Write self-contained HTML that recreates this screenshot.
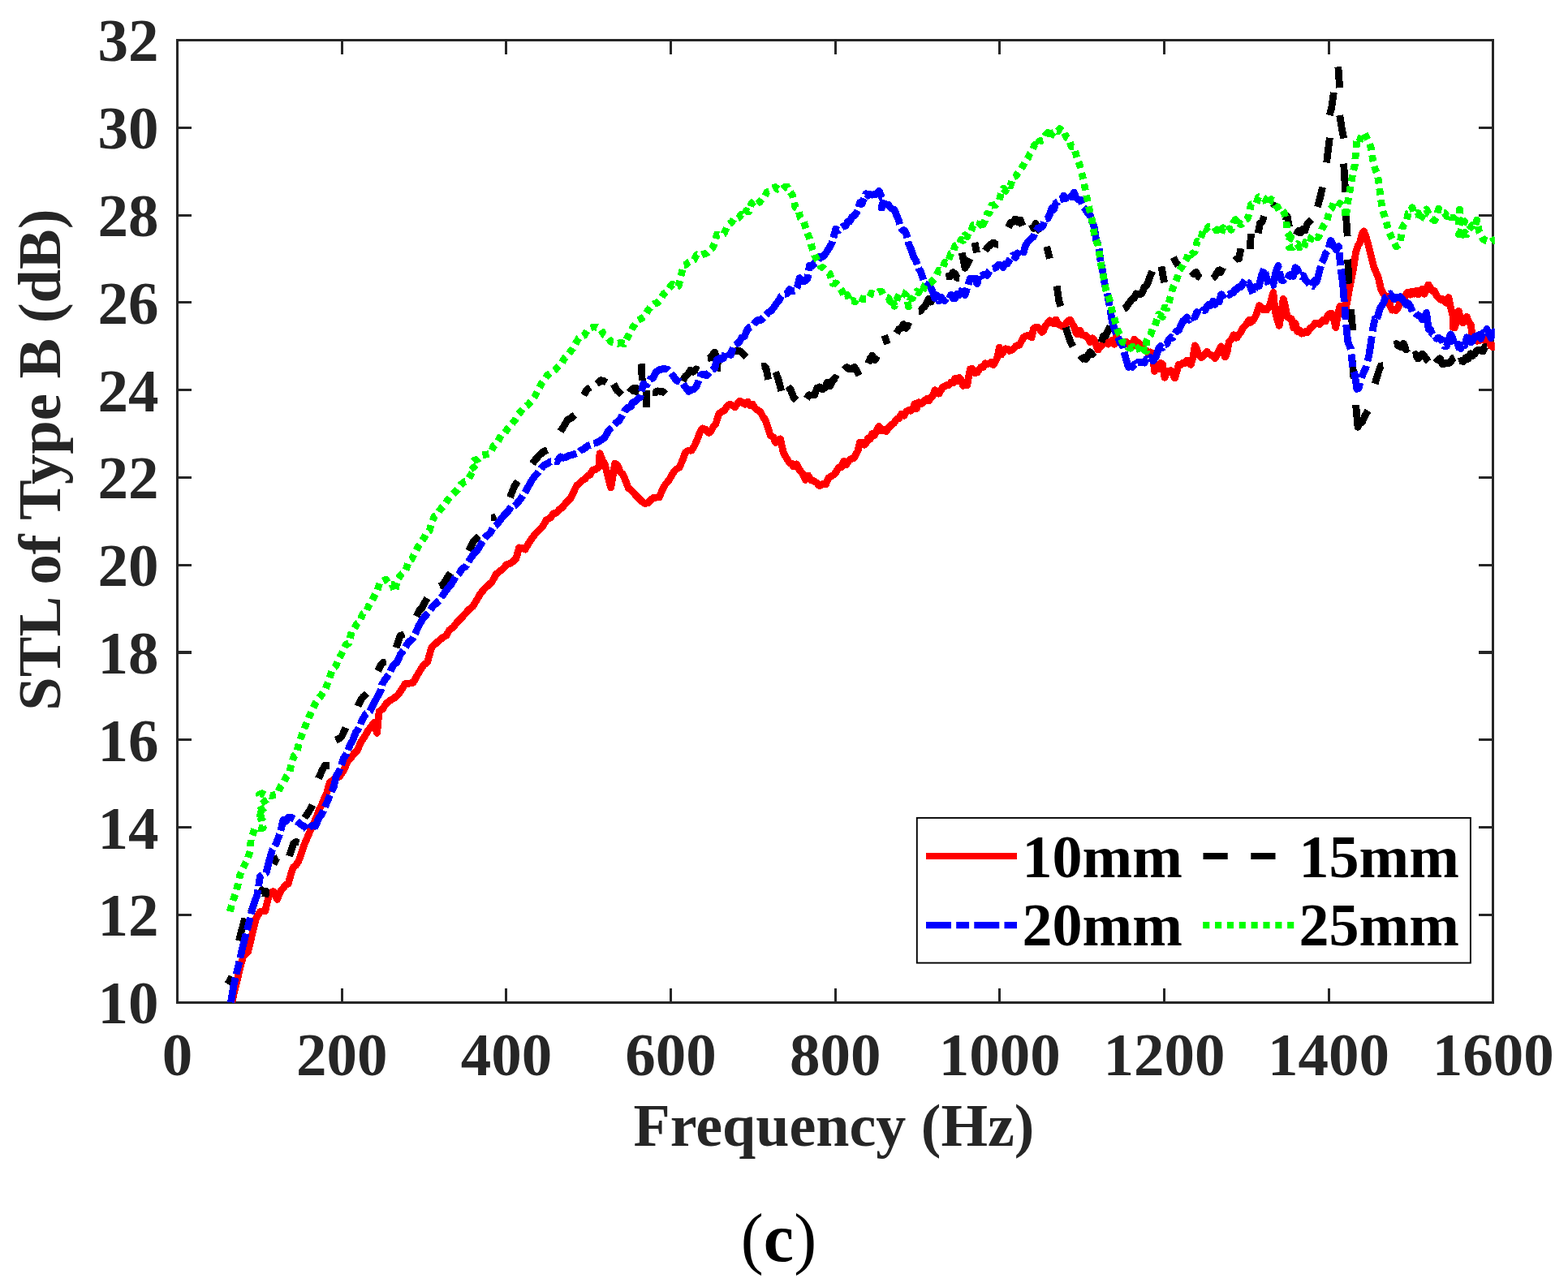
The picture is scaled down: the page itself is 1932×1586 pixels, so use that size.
<!DOCTYPE html>
<html lang="en">
<head>
<meta charset="utf-8">
<title>STL of Type B (dB) vs Frequency (Hz) - (c)</title>
<style>
html,body{margin:0;padding:0;background:#fff;}
body{width:1932px;height:1586px;overflow:hidden;}
svg{display:block;}
text{font-family:"Liberation Serif","DejaVu Serif",serif;}
.b{font-weight:bold;font-size:74px;}
.ax{fill:#262626;}
</style>
</head>
<body>
<svg width="1932" height="1586" viewBox="0 0 1932 1586">
<rect x="0" y="0" width="1932" height="1586" fill="#ffffff"/>
<g stroke="#262626" stroke-width="3.1" fill="none" shape-rendering="crispEdges">
<rect x="218.6" y="49.5" width="1621.2" height="1185.7"/>
<path d="M421.2 1235.2V1217.8 M421.2 49.5V66.9 M623.9 1235.2V1217.8 M623.9 49.5V66.9 M826.6 1235.2V1217.8 M826.6 49.5V66.9 M1029.2 1235.2V1217.8 M1029.2 49.5V66.9 M1231.8 1235.2V1217.8 M1231.8 49.5V66.9 M1434.5 1235.2V1217.8 M1434.5 49.5V66.9 M1637.1 1235.2V1217.8 M1637.1 49.5V66.9 M218.6 1127.4H236.0 M1839.8 1127.4H1822.4 M218.6 1019.6H236.0 M1839.8 1019.6H1822.4 M218.6 911.8H236.0 M1839.8 911.8H1822.4 M218.6 804.0H236.0 M1839.8 804.0H1822.4 M218.6 696.2H236.0 M1839.8 696.2H1822.4 M218.6 588.5H236.0 M1839.8 588.5H1822.4 M218.6 480.7H236.0 M1839.8 480.7H1822.4 M218.6 372.9H236.0 M1839.8 372.9H1822.4 M218.6 265.1H236.0 M1839.8 265.1H1822.4 M218.6 157.3H236.0 M1839.8 157.3H1822.4"/>
</g>
<defs><clipPath id="clip"><rect x="217.1" y="48.0" width="1624.7" height="1188.7"/></clipPath></defs>
<g clip-path="url(#clip)" fill="none" stroke-width="8.80" stroke-linejoin="round" shape-rendering="crispEdges">
<path d="M285.7 1235.3L289.4 1219.2L292.5 1207.0L295.7 1192.9L299.4 1179.5L302.5 1175.4L305.6 1173.0L310.6 1151.9L315.5 1131.5L320.5 1123.5L323.6 1122.8L326.7 1122.7L331.7 1102.3L336.6 1098.5L341.6 1108.3L345.3 1099.1L349.1 1094.1L352.2 1090.1L355.3 1088.9L358.4 1077.6L361.5 1068.5L364.6 1066.4L367.7 1061.4L370.8 1053.6L373.9 1043.4L378.9 1031.6L383.9 1020.2L387.0 1013.6L390.1 1006.7L393.2 997.8L396.3 992.1L399.4 984.3L402.5 977.6L406.2 964.5L411.2 960.6L414.9 958.0L418.6 957.1L423.6 948.9L428.6 938.1L432.3 934.0L436.0 928.9L440.4 924.4L444.7 914.5L449.1 907.9L453.4 900.4L457.1 895.6L460.9 890.4L464.6 903.3L467.1 876.8L471.4 873.8L475.8 867.1L480.7 863.1L485.7 860.2L490.7 856.1L495.7 848.4L499.3 842.5L504.2 842.2L509.2 841.2L513.5 833.1L517.9 825.8L522.2 819.3L526.6 816.2L531.6 798.2L536.5 793.3L541.5 789.0L545.6 785.6L549.8 783.3L553.9 776.2L558.9 772.6L563.9 765.9L568.8 761.3L573.8 755.6L577.9 751.0L582.1 747.8L586.2 741.5L591.2 732.7L596.1 726.5L601.1 721.8L606.1 717.2L611.1 707.8L616.0 703.7L620.2 700.6L624.3 695.6L628.4 694.3L632.2 691.9L635.9 688.4L639.6 674.9L643.4 675.2L647.1 677.0L651.4 669.4L655.8 663.0L659.9 657.5L664.1 653.2L668.2 649.5L673.2 640.7L678.1 638.1L681.9 632.9L685.6 632.2L689.3 627.8L693.0 625.5L698.0 618.8L703.0 614.1L706.7 606.4L710.4 598.6L713.7 596.1L717.1 592.1L720.4 590.6L723.7 586.6L727.0 585.0L730.3 579.0L734.0 578.4L737.8 575.9L739.0 558.7L742.1 566.8L745.2 572.2L748.9 586.5L752.7 601.0L757.6 571.1L761.0 573.5L764.3 581.9L767.6 584.5L770.9 592.7L774.2 601.3L777.5 604.1L780.8 607.1L784.1 611.2L787.5 614.3L791.2 618.1L794.9 620.6L798.6 619.6L802.4 615.6L805.7 613.1L809.0 613.1L812.3 612.8L817.3 601.0L820.6 595.8L823.9 592.2L827.2 586.5L830.5 581.1L833.8 577.9L837.1 576.1L840.9 567.4L844.6 557.4L848.3 555.0L852.0 555.2L856.0 548.7L860.0 539.5L862.9 531.5L865.8 527.9L869.6 529.2L873.3 533.5L876.2 530.8L879.1 525.5L882.0 522.1L885.7 510.3L889.0 507.4L892.3 506.2L895.7 500.9L899.0 498.2L902.3 499.4L905.6 501.7L908.7 497.2L911.8 494.2L914.9 496.4L918.0 498.2L921.1 495.0L924.2 499.6L927.3 498.3L930.4 503.0L933.7 505.4L937.1 507.8L940.4 514.3L942.9 517.2L945.3 524.2L949.1 536.4L952.8 538.7L955.7 545.4L958.6 542.0L961.5 540.9L965.2 557.8L968.9 564.2L972.7 570.6L975.2 571.1L977.6 574.8L981.4 571.8L985.1 579.0L988.8 583.3L992.5 591.3L995.9 586.0L999.2 591.9L1002.5 592.7L1006.2 594.9L1009.9 598.8L1013.7 596.6L1017.4 597.0L1020.7 589.0L1024.0 587.0L1027.3 585.1L1030.4 581.4L1033.5 575.7L1036.6 575.7L1039.8 568.2L1042.9 572.5L1046.0 567.4L1049.1 565.3L1052.2 564.6L1054.7 559.6L1057.1 555.4L1059.6 545.0L1062.1 545.4L1064.6 548.3L1067.1 545.9L1069.6 539.9L1072.0 541.4L1074.5 534.6L1077.3 536.7L1080.0 530.6L1083.0 525.1L1086.1 531.1L1089.1 529.6L1092.2 531.7L1095.3 526.6L1098.4 523.5L1101.5 521.5L1104.6 516.7L1107.7 515.6L1110.8 510.1L1113.9 512.3L1117.0 507.0L1119.5 505.6L1122.0 506.2L1124.5 504.5L1127.0 497.8L1129.4 503.5L1131.9 495.8L1134.4 497.7L1136.9 496.5L1139.4 493.3L1141.9 491.7L1144.3 494.1L1146.8 490.4L1149.3 487.9L1151.8 480.8L1154.3 481.9L1156.8 485.2L1159.3 481.3L1161.7 476.9L1164.2 476.2L1166.7 474.6L1169.2 474.6L1171.7 471.3L1174.2 472.0L1176.6 466.4L1179.1 470.1L1181.6 465.4L1184.1 468.1L1186.6 475.4L1189.1 473.4L1191.6 475.0L1195.3 454.9L1198.2 454.5L1201.1 459.5L1204.0 459.0L1206.5 455.5L1208.9 452.2L1211.4 452.6L1213.9 447.8L1216.4 448.6L1218.9 447.8L1221.4 446.4L1223.9 449.8L1226.3 446.0L1228.8 440.7L1231.3 428.1L1233.8 437.1L1236.3 433.4L1238.8 429.7L1241.2 430.1L1243.7 432.3L1246.2 431.5L1248.7 429.7L1251.2 427.0L1253.7 425.7L1256.1 425.3L1258.6 420.4L1261.1 415.9L1263.6 414.1L1266.1 413.5L1268.6 412.9L1271.1 416.0L1273.5 404.7L1276.0 403.3L1278.5 403.1L1281.0 405.3L1283.5 409.3L1286.0 406.9L1288.4 401.2L1290.9 398.1L1293.4 394.8L1295.9 396.9L1298.4 399.1L1300.9 393.9L1303.4 398.5L1305.8 400.6L1308.3 401.8L1310.8 402.8L1313.3 398.9L1315.8 396.2L1318.3 394.0L1320.7 398.2L1323.2 402.4L1325.7 409.9L1328.2 412.1L1330.7 407.0L1333.2 412.9L1335.7 413.3L1338.1 413.5L1340.6 416.6L1343.1 421.8L1345.6 416.8L1348.1 419.0L1350.6 425.7L1353.0 431.1L1355.5 427.3L1358.0 425.0L1360.5 419.7L1363.0 420.4L1365.5 424.0L1368.0 422.4L1370.4 419.1L1372.9 424.3L1375.4 414.3L1377.9 420.1L1380.4 422.0L1382.9 423.2L1385.3 421.8L1387.8 421.3L1390.3 424.7L1392.8 423.5L1395.3 426.1L1397.8 418.2L1400.2 425.8L1402.7 421.9L1405.2 425.6L1407.7 428.4L1410.2 431.7L1412.7 432.1L1415.2 435.1L1417.6 433.9L1420.1 436.1L1422.6 457.6L1425.1 451.5L1427.6 454.8L1430.1 447.4L1432.5 448.9L1435.0 465.2L1437.5 457.6L1440.0 459.0L1442.5 456.4L1445.0 460.3L1447.5 466.0L1449.9 458.3L1452.4 449.2L1454.9 449.7L1457.4 447.3L1459.9 447.6L1462.4 444.5L1464.8 444.9L1467.3 449.5L1469.8 441.0L1472.3 425.8L1474.8 430.4L1477.3 437.9L1479.8 440.5L1482.2 439.5L1484.7 435.6L1487.2 433.4L1489.7 436.0L1492.2 437.7L1494.7 438.4L1497.1 441.7L1499.6 437.0L1502.1 432.0L1504.6 426.9L1507.1 432.0L1509.6 440.1L1512.0 433.9L1514.5 420.7L1517.3 418.5L1520.0 412.7L1522.0 416.2L1524.0 416.1L1526.5 412.2L1529.0 409.5L1531.5 403.9L1534.0 401.8L1536.5 398.4L1538.9 394.4L1541.4 397.3L1543.9 395.0L1546.4 390.9L1548.9 385.3L1551.4 376.5L1553.9 378.2L1556.3 381.7L1558.8 380.6L1561.3 381.6L1563.8 377.7L1566.3 370.2L1568.8 360.5L1571.2 384.2L1573.7 393.3L1576.2 401.3L1578.7 386.2L1581.2 368.3L1583.7 377.7L1586.1 390.9L1588.6 391.8L1591.1 392.8L1593.6 403.8L1596.1 398.5L1598.6 408.6L1601.1 407.0L1603.5 411.2L1606.0 410.8L1608.5 408.5L1611.0 409.9L1613.5 405.4L1616.0 403.2L1618.4 401.1L1620.9 397.9L1623.4 398.6L1625.9 399.6L1628.4 395.9L1630.9 394.1L1633.4 395.9L1635.8 389.0L1638.3 386.8L1640.8 386.2L1643.3 393.1L1645.8 403.6L1648.3 389.3L1650.7 377.7L1653.2 380.5L1655.7 376.4L1658.2 380.8L1660.7 367.2L1663.2 352.6L1666.9 335.3L1670.6 311.0L1673.1 303.0L1675.6 299.4L1678.1 288.4L1680.6 284.8L1683.0 291.8L1685.5 300.0L1689.3 315.0L1693.0 329.6L1695.5 335.4L1698.0 341.1L1701.7 356.6L1704.6 362.2L1707.5 364.6L1710.4 365.6L1712.9 377.4L1715.3 382.2L1717.8 381.8L1720.3 382.5L1722.8 379.0L1725.3 372.2L1727.8 368.0L1730.2 368.1L1732.7 362.4L1735.2 359.9L1737.7 363.2L1740.2 358.9L1742.7 362.2L1745.2 358.1L1747.6 362.9L1750.1 361.0L1752.6 356.0L1755.1 362.3L1757.6 357.0L1760.1 350.9L1762.5 354.7L1765.0 358.5L1767.5 358.5L1770.0 364.0L1772.5 367.0L1775.0 369.3L1777.5 368.6L1779.9 371.3L1782.4 373.5L1784.9 366.6L1787.4 378.6L1789.9 388.4L1789.9 403.3L1792.4 404.0L1794.8 396.1L1797.3 383.4L1799.8 391.9L1802.3 397.9L1804.8 395.4L1807.3 390.3L1809.8 396.6L1812.2 400.2L1814.7 416.3L1817.2 415.6L1819.7 420.2L1822.2 419.8L1824.7 416.4L1827.1 416.5L1829.6 420.4L1832.1 419.0L1834.6 421.5L1837.1 426.1L1839.6 427.8L1843.0 423.3" stroke="#ff0000"/>
<path d="M280.7 1212.7L285.7 1203.6M294.4 1159.3L298.1 1145.0L301.9 1131.6M309.3 1124.5L313.8 1110.6M319.3 1094.7L323.6 1097.9L328.0 1098.3L326.7 1105.5M336.6 1055.0L339.8 1061.7L342.9 1063.1M356.5 1055.0L361.5 1039.6L365.0 1037.4L368.4 1038.3M375.2 1007.8L378.9 1002.8L382.6 996.6L385.1 992.0M392.5 959.3L396.3 950.7L400.0 943.5L405.7 943.7M413.7 912.1L417.4 910.5L421.1 907.5L426.1 896.8M440.9 870.2L444.0 863.7L447.1 859.1L452.0 854.7M465.7 826.7L469.4 819.1L472.5 816.3L475.7 815.9M488.1 798.1L493.0 783.6L498.0 781.3M512.9 759.6L516.6 752.3L520.4 748.7L523.5 742.1L526.6 737.2M541.5 722.4L545.2 721.0L548.9 715.4L552.0 710.5L555.2 706.0M577.5 678.9L580.6 672.7L583.7 667.0L586.8 663.5L589.9 660.7M604.8 637.9L608.0 637.9L611.1 636.2M628.4 613.0L633.4 600.1L637.9 592.9M655.9 571.4L660.2 565.9L664.6 561.0L669.6 556.6L674.5 554.5M690.7 531.7L695.0 524.7L699.4 517.3L703.7 515.2L708.1 511.2M719.3 487.0L723.0 480.2L727.2 477.4M735.4 473.3L740.4 468.7L743.7 469.5L747.1 471.4M756.0 473.3L760.2 481.0L766.0 486.7M775.2 483.2L779.5 478.8L783.9 478.1L782.6 486.6M790.1 448.4L791.3 468.9M796.3 480.7L796.3 502.4M804.2 483.2L807.4 483.7L810.5 481.8L813.7 482.4L816.8 482.6L819.9 485.6M841.0 469.6L844.3 463.9L847.6 461.2L850.9 456.1L854.2 458.2L857.6 454.9L860.9 456.2M872.0 441.0L874.9 441.2L877.8 437.5L880.7 434.1L884.5 445.7L883.2 457.4M903.1 431.1L906.0 433.1L908.9 432.2L911.8 432.6L915.5 436.2L919.3 440.0M938.4 451.4L941.2 450.9L944.1 454.2L946.6 467.8M955.8 458.4L959.3 468.7L962.7 481.8M970.7 476.3L974.2 480.1L977.8 489.8L981.4 493.3M993.8 491.2L997.0 486.8L1000.2 487.1L1003.5 486.9L1006.7 478.2L1009.9 476.9L1013.1 480.0L1016.3 478.0L1019.5 471.1L1022.7 475.8L1025.9 468.9L1029.1 465.7L1032.3 467.7M1040.0 455.5L1043.3 452.6L1046.6 454.7L1049.9 454.7L1052.8 452.3L1055.7 456.9L1058.6 462.8M1069.8 448.0L1072.3 441.6L1074.8 438.2L1077.9 443.6L1081.0 438.8M1089.7 413.2L1093.4 424.1M1104.6 410.7L1107.5 405.7L1110.4 404.5L1113.3 399.6L1116.2 404.5L1119.1 401.3L1122.0 402.7M1131.9 383.4L1134.4 383.2L1136.9 379.5L1139.4 377.7L1141.9 373.4L1144.3 368.4L1146.8 372.2L1149.3 368.4M1165.5 341.2L1168.4 340.5L1171.3 340.5L1174.2 335.7L1176.6 337.1L1179.1 342.4L1181.6 342.2M1185.3 311.4L1189.1 330.2L1192.2 325.1L1195.3 318.5M1201.0 298.9L1203.5 311.5M1213.9 308.9L1216.4 305.3L1218.9 303.0L1221.4 300.5L1224.3 299.0L1227.2 301.0L1230.1 301.3M1242.5 280.3L1245.4 274.4L1248.3 273.4L1251.2 269.9L1254.1 273.5L1257.0 270.9L1259.9 278.2M1271.1 276.6L1273.5 281.6L1276.0 275.4L1278.5 280.9L1282.2 285.8M1289.7 303.9L1293.4 318.6M1302.1 352.4L1304.6 369.9L1307.1 377.5M1313.3 403.3L1316.2 413.6L1319.1 421.7L1322.0 427.0M1330.7 444.3L1333.2 441.7L1335.7 440.5L1338.1 442.7L1340.6 437.7L1343.1 433.7L1345.6 436.9L1348.1 434.0M1356.8 421.9L1359.6 413.9L1362.4 414.1L1365.2 407.7L1368.0 401.9M1384.9 380.5L1387.4 379.2L1389.9 375.1L1392.4 371.7L1394.8 368.7L1397.3 367.7L1399.8 361.9L1402.3 362.9L1404.8 362.7L1407.3 361.2L1409.8 354.1L1412.2 352.4L1414.7 347.7L1417.2 340.3L1419.7 334.3M1430.9 328.3L1434.6 348.2M1445.8 317.1L1448.9 323.2L1452.0 327.2M1468.1 334.5L1470.9 337.7L1473.7 335.4L1476.5 340.6L1479.3 342.5M1494.2 343.2L1496.7 341.0L1499.2 336.7L1501.7 333.2L1504.2 335.4L1506.6 329.7M1521.6 320.9L1524.0 318.8L1526.5 319.0L1529.0 306.2M1540.2 307.2L1541.4 288.2M1550.1 287.3L1552.6 274.9L1555.1 273.7L1557.6 266.3M1568.8 256.3L1572.5 249.9M1581.2 266.2L1583.7 266.9L1586.1 266.7L1588.6 279.7M1597.3 289.8L1600.0 284.1L1602.7 286.9L1605.3 282.0L1608.0 284.1L1610.6 276.1L1613.3 273.5L1616.0 270.6M1623.4 255.0L1626.5 243.7L1629.6 230.6M1634.6 200.4L1638.3 169.8M1638.3 142.0L1640.8 132.4L1643.3 114.0M1648.8 82.4L1650.7 108.2M1650.7 142.0L1653.2 157.5L1655.7 170.6M1655.7 201.6L1657.7 236.8M1658.2 261.2L1660.2 291.3M1660.7 319.6L1661.9 349.6M1664.4 381.0L1666.9 407.0M1665.7 439.4L1668.1 466.6M1670.6 499.0L1673.1 526.4L1675.6 518.3L1678.1 520.7L1680.6 515.2L1683.0 510.3L1685.5 506.0M1694.2 472.9L1698.0 459.9L1701.1 451.0L1704.2 450.6M1717.8 424.5L1720.7 423.6L1723.6 426.4L1726.5 427.7L1729.4 423.4L1732.3 431.1L1735.2 428.9M1741.4 438.1L1744.3 436.6L1747.2 442.1L1750.1 439.6L1752.6 436.0L1755.1 438.9L1757.6 442.5L1760.1 445.6M1768.8 440.6L1771.6 443.4L1774.3 441.7L1777.1 448.6L1779.9 448.4L1782.4 447.1L1784.9 447.5L1787.4 446.2L1789.9 441.7L1792.4 440.5M1797.3 445.6L1800.2 444.6L1803.1 445.6L1806.0 440.9L1808.9 442.4L1811.8 435.8L1814.7 443.0M1814.7 431.9L1817.2 435.9L1819.7 432.0L1822.2 431.1L1824.7 431.8L1827.1 433.1L1829.6 427.5L1832.1 427.1" stroke="#000000"/>
<path d="M284.5 1235.3L288.2 1213.1L293.2 1192.1L298.1 1171.0L301.9 1155.8L306.8 1136.7L311.8 1116.6L316.8 1102.9L319.3 1087.6L320.5 1079.8L324.2 1077.6L328.0 1075.5L331.7 1060.8L335.4 1047.7L340.4 1039.3L345.3 1025.7L349.1 1010.1L352.2 1012.3L355.3 1007.3L359.0 1007.5L362.7 1009.3L367.1 1013.0L371.4 1016.5L375.2 1018.5L378.9 1022.9L383.9 1017.7L388.8 1018.2L392.5 1008.7L396.3 1003.8L400.0 995.4L403.7 986.9L407.5 977.7L411.2 969.8L414.3 956.2L417.4 951.6L420.5 942.8L423.6 933.8L427.3 928.7L431.1 918.2L434.8 911.9L438.5 902.1L442.2 897.4L446.0 887.6L450.9 879.6L455.9 876.3L460.9 866.2L465.8 857.3L469.6 850.0L470.7 843.4L475.0 836.5L479.4 830.8L484.3 820.3L489.3 815.7L493.7 805.8L498.0 800.6L503.0 791.7L508.0 787.7L512.3 779.3L516.6 770.0L520.8 762.6L524.9 758.1L529.1 753.2L533.2 747.1L537.3 743.7L541.5 739.6L546.5 732.1L551.4 725.4L556.4 719.4L561.4 710.7L565.5 707.1L569.6 700.7L573.8 698.1L578.8 689.6L583.7 682.4L587.5 678.8L591.2 673.0L594.9 666.4L598.6 661.2L603.6 657.3L608.6 648.8L612.3 646.4L616.0 641.3L621.0 635.1L626.0 630.0L630.1 624.1L634.2 623.2L638.4 618.8L642.7 613.0L647.1 606.4L651.4 598.8L655.8 591.1L659.5 586.1L663.2 581.9L667.0 576.9L670.7 573.0L674.4 571.4L678.1 568.9L682.3 568.5L686.4 568.7L690.6 562.9L694.3 564.2L698.0 563.2L701.7 561.1L705.5 560.5L708.8 559.2L712.1 558.1L715.4 555.0L719.5 553.3L723.7 549.6L727.8 548.2L731.1 546.5L734.5 545.8L737.8 544.0L741.5 541.8L745.2 539.1L748.9 532.0L752.7 527.6L756.0 524.8L759.3 520.7L762.6 518.6L766.3 512.7L770.1 505.7L773.8 502.2L777.5 501.0L778.9 496.5L782.2 495.1L785.5 491.8L788.8 489.7L792.5 473.4L796.9 474.1L801.2 466.9L804.6 466.1L807.9 459.1L811.2 456.1L816.1 454.8L819.5 454.8L822.8 455.2L826.1 458.5L829.8 463.8L833.5 468.9L837.3 470.2L841.0 471.9L844.7 477.4L848.4 482.3L851.8 480.7L855.1 479.5L858.4 475.5L863.4 462.0L867.1 461.0L870.8 463.0L874.1 458.6L877.4 456.3L880.7 453.9L883.2 443.2L886.1 441.6L889.0 442.6L891.9 441.1L894.8 432.3L897.7 434.5L900.6 437.5L903.9 425.9L907.2 424.2L910.6 421.8L913.9 416.1L917.2 414.8L920.5 406.4L923.8 403.1L927.1 401.7L930.4 397.4L933.7 394.3L937.1 394.8L940.4 391.8L943.7 388.4L947.0 384.7L950.3 383.1L954.0 378.0L957.8 372.5L960.2 369.9L962.7 364.7L966.0 362.5L969.4 362.0L972.7 356.8L976.4 358.7L980.1 358.0L982.6 353.0L985.1 342.6L988.4 346.7L991.7 346.4L995.0 343.3L997.5 327.0L1000.8 327.7L1004.1 323.6L1007.5 321.4L1010.8 316.2L1014.1 316.4L1017.4 312.2L1021.1 306.4L1024.8 300.0L1027.3 291.3L1029.8 282.2L1033.1 283.9L1036.4 280.6L1039.8 278.4L1042.2 278.3L1044.7 272.7L1047.2 272.8L1049.7 267.5L1052.2 266.1L1054.7 263.2L1057.1 258.9L1059.6 249.4L1062.1 250.9L1064.6 245.0L1067.1 238.8L1069.6 241.1L1072.0 239.3L1074.5 240.2L1077.3 239.5L1080.0 239.3L1083.2 235.5L1086.5 243.7L1089.7 244.0L1086.0 256.0L1088.8 255.3L1091.6 257.0L1094.3 252.2L1097.1 255.8L1099.6 257.6L1102.1 258.5L1104.6 265.0L1107.1 270.8L1109.6 279.8L1112.0 283.8L1114.5 284.0L1117.0 289.3L1119.5 300.0L1122.0 305.9L1125.7 316.6L1128.8 321.5L1131.9 330.8L1134.4 334.7L1136.9 342.0L1139.4 349.1L1141.9 350.9L1144.3 351.8L1146.8 354.2L1149.3 359.8L1151.8 367.8L1154.3 363.8L1156.8 370.9L1159.3 366.2L1161.7 369.2L1164.2 370.7L1166.7 366.3L1169.2 367.7L1171.7 363.4L1174.2 367.7L1176.6 368.0L1179.1 362.5L1181.6 363.7L1184.1 361.3L1186.6 353.9L1189.1 363.6L1191.6 355.2L1195.3 343.3L1198.2 343.0L1201.1 343.3L1204.0 349.8L1206.5 337.7L1208.9 340.4L1211.4 338.8L1213.9 338.2L1216.4 339.3L1218.9 334.3L1221.4 331.5L1223.9 330.8L1227.0 329.9L1230.1 326.3L1233.0 326.7L1235.9 329.6L1238.8 324.9L1241.2 325.1L1243.7 320.6L1246.2 317.1L1248.7 314.4L1251.2 317.4L1253.7 312.1L1256.1 310.6L1258.6 306.3L1261.1 310.9L1263.6 302.9L1266.1 298.5L1268.6 295.8L1271.1 293.4L1273.5 291.7L1276.0 284.6L1279.1 281.0L1282.2 280.4L1285.1 278.6L1288.0 269.8L1290.9 269.4L1293.4 264.3L1295.9 256.6L1298.4 258.4L1300.9 250.2L1303.4 249.0L1305.8 245.6L1308.3 245.4L1310.8 241.1L1313.3 244.7L1315.8 237.6L1318.3 241.5L1320.7 242.9L1323.2 237.0L1325.7 243.2L1328.2 245.5L1331.3 246.2L1334.4 254.6L1337.5 258.2L1340.6 262.9L1343.1 265.1L1345.6 273.8L1348.1 278.9L1350.6 295.2L1354.3 304.6L1355.5 318.4L1358.0 330.2L1361.7 353.1L1364.2 360.5L1368.0 382.3L1370.4 396.2L1374.2 408.4L1377.9 416.5L1380.4 423.0L1382.9 424.7L1386.6 439.8L1390.3 452.4L1392.8 451.2L1395.3 452.4L1397.8 448.7L1400.2 450.5L1402.7 446.2L1405.2 446.8L1407.7 446.2L1410.2 447.1L1412.7 442.4L1415.2 444.0L1417.6 440.6L1420.7 444.7L1423.9 440.7L1427.6 429.4L1430.1 426.7L1432.5 428.5L1435.0 424.6L1437.5 424.1L1440.0 418.4L1442.5 415.7L1445.0 416.2L1447.5 411.2L1449.9 407.8L1452.4 407.1L1454.9 401.4L1457.4 395.7L1459.9 394.6L1462.4 390.9L1464.8 394.3L1467.3 390.6L1469.8 391.4L1472.3 390.6L1474.8 384.6L1477.3 385.6L1479.8 386.7L1482.2 382.0L1484.7 382.5L1487.2 377.9L1489.7 375.1L1492.2 376.2L1494.7 371.0L1497.1 375.3L1499.6 369.6L1502.1 372.0L1504.6 362.8L1507.1 363.9L1509.6 361.9L1512.2 361.1L1514.8 363.3L1517.4 360.9L1520.0 360.7L1521.6 356.9L1524.0 356.7L1526.5 353.5L1529.0 353.8L1531.5 349.1L1534.0 345.2L1536.5 348.4L1538.9 348.8L1541.4 356.2L1543.9 361.7L1546.4 353.8L1548.9 353.3L1551.4 352.5L1554.5 338.9L1557.6 331.3L1561.3 344.6L1563.8 353.0L1566.3 351.0L1568.8 351.3L1571.9 335.2L1575.0 327.5L1578.7 345.3L1581.2 345.8L1583.7 342.5L1586.1 343.6L1588.6 338.7L1591.1 339.0L1593.6 340.4L1596.1 329.7L1598.6 331.7L1601.1 338.3L1603.5 341.0L1606.0 339.8L1608.9 345.6L1611.8 348.5L1614.7 352.1L1617.2 352.7L1619.7 345.7L1622.2 347.5L1625.9 333.8L1628.4 324.0L1630.9 319.7L1633.4 312.5L1635.8 309.5L1639.6 296.4L1643.3 303.0L1646.4 307.9L1649.5 303.7L1650.7 317.0L1652.0 331.0L1654.5 349.0" stroke="#0000ff" stroke-dasharray="31 4.5 15.9 4.5"/>
<path d="M1654.5 349.0L1657.0 379.5L1658.2 395.3L1660.7 421.2L1664.4 430.0L1666.9 454.4L1669.4 462.0L1671.9 479.4L1674.3 478.3L1676.8 468.0L1679.9 459.6L1683.0 453.0L1686.8 437.9L1689.3 421.8L1691.7 404.0L1694.2 392.9L1696.7 393.0" stroke="#0000ff" stroke-dasharray="31 6.2 15.9 6.2" stroke-dashoffset="8"/>
<path d="M1696.7 393.0L1700.4 379.8L1704.2 374.2L1707.3 366.0L1710.4 363.5L1712.9 362.0L1715.3 365.7L1717.8 368.7L1720.3 361.7L1722.8 366.6L1725.3 365.7L1727.8 368.7L1730.2 371.9L1732.7 375.6L1735.2 373.9L1737.7 377.2L1740.2 384.1L1742.7 384.3L1745.2 387.3L1747.6 389.0L1750.1 389.9L1752.6 394.0L1755.1 390.6L1757.6 385.4L1760.1 405.6L1762.5 406.2L1765.0 411.9L1767.5 412.8L1770.0 417.2L1772.5 416.0L1775.0 418.7L1777.5 418.8L1779.9 426.7L1782.4 426.6L1784.9 418.3L1787.4 411.9L1789.9 416.8L1792.4 428.0L1794.8 427.2L1797.3 424.4L1799.8 429.5L1802.3 423.7L1804.8 425.7L1807.3 415.8L1809.8 416.9L1812.2 422.0L1814.7 420.2L1817.2 414.8L1819.7 417.1L1822.2 412.6L1824.7 417.3L1827.1 410.0L1829.6 410.8L1832.1 405.5L1834.6 411.0L1837.1 416.5L1839.6 410.0L1843.0 407.7" stroke="#0000ff" stroke-dasharray="31 4.5 15.9 4.5"/>
<path d="M283.2 1123.3L287.0 1109.7L290.1 1101.8L293.2 1089.9L295.7 1078.5L298.8 1070.8L301.9 1064.6L305.0 1059.1L308.1 1048.9L309.3 1033.8L314.3 1019.8L319.3 1020.9L324.2 1020.1L321.7 1009.7L324.8 1006.6L328.0 1006.1L323.8 1005.2L319.7 1003.3L315.5 1002.2L320.1 998.4L324.6 996.3L329.2 992.7L324.2 985.6L319.3 979.3L323.0 977.8L326.7 979.6L330.4 980.2L334.2 981.1L337.9 979.4L341.6 978.7L345.3 969.9L349.1 964.9L352.8 957.3L356.5 952.6L359.0 942.0L362.1 931.8L365.2 929.2L368.9 913.7L373.9 900.6L378.9 887.8L383.9 876.7L388.8 866.2L391.9 861.5L395.0 858.0L398.1 853.6L401.2 848.8L404.8 839.1L409.8 824.5L413.5 821.2L417.3 812.0L420.4 806.8L423.5 800.7L426.6 793.8L429.7 793.0L433.4 777.9L436.5 774.8L439.6 768.9L443.4 766.0L447.1 756.0L450.8 754.1L454.5 746.3L458.3 740.2L462.0 732.7L465.1 726.9L468.2 717.3L471.9 716.1L475.7 714.1L479.4 720.4L483.1 719.9L486.8 729.2L489.3 714.8L494.3 708.1L499.3 704.1L504.2 690.7L507.3 688.9L510.4 682.9L513.5 676.8L516.6 671.2L519.8 666.8L522.9 662.5L526.0 656.1L529.1 654.0L532.2 643.7L535.3 636.0L538.4 634.6L541.5 629.0L546.5 623.4L551.4 616.5L555.6 611.6L559.7 607.2L563.9 603.0L567.6 597.6L571.3 594.0L575.0 593.0L578.8 587.6L582.5 580.8L586.2 579.8L583.1 575.5L580.0 571.3L584.6 567.3L589.1 565.8L593.7 561.1L598.6 560.2L603.6 559.3L608.6 549.1L612.3 546.0L616.0 539.2L619.1 534.3L622.2 533.1L626.6 526.8L630.9 522.1L634.7 517.6L638.4 511.0L642.1 506.7L645.8 502.4L650.8 498.6L655.2 493.7L659.6 487.4L663.4 479.7L667.1 473.0L670.8 468.0L674.5 462.4L679.5 458.7L684.5 455.4L688.2 451.2L691.9 447.9L696.3 440.3L700.6 436.4L705.0 430.5L709.3 423.4L713.0 417.0L716.8 414.9L720.1 413.0L723.4 407.4L726.7 404.4L731.1 403.0L735.4 403.3L739.8 405.6L744.1 412.5L748.4 415.1L752.8 421.1L757.1 421.8L761.5 423.3L765.2 422.2L768.9 423.9L773.9 414.5L778.9 404.7L782.0 400.4L785.1 395.3L789.4 393.1L793.8 390.3L798.1 383.0L802.5 377.0L806.2 374.2L809.9 373.1L813.7 369.8L817.4 362.6L821.1 359.6L824.8 354.5L828.6 350.4L832.3 353.5L836.0 352.9L839.8 336.7L842.2 326.8L845.3 326.3L848.4 323.2L851.8 321.5L855.1 320.3L858.4 313.8L862.7 314.8L867.1 313.0L870.8 312.0L874.5 308.3L877.6 306.1L880.7 299.1L883.2 289.2L886.1 289.7L889.0 289.4L891.9 288.1L896.9 277.2L901.9 273.6L904.8 268.8L907.7 269.6L910.6 268.0L913.5 264.1L916.4 266.4L919.3 259.8L922.6 261.1L925.9 251.0L929.2 248.0L932.5 251.9L935.8 249.2L939.1 245.4L942.0 243.0L944.9 236.6L947.8 236.1L951.6 232.2L955.3 230.6L958.2 233.2L961.1 232.0L964.0 233.0L967.1 230.3L970.2 230.2L973.3 236.2L976.4 240.4L980.1 255.9L983.2 257.3L986.3 268.4L990.1 272.6L993.8 284.1L997.5 294.1L1001.2 307.7L1003.7 314.6L1007.5 321.3L1011.2 328.3L1014.9 330.4L1018.6 334.5L1022.4 337.4L1026.1 349.2L1029.8 348.8L1033.5 352.8L1037.3 358.3L1041.0 367.0L1044.1 363.3L1047.2 372.0L1050.5 370.2L1053.8 371.8L1057.1 366.2L1060.5 367.7L1063.8 368.7L1067.1 368.7L1070.3 367.9L1073.5 361.4L1076.8 362.5L1080.0 361.2L1083.2 359.0L1086.5 359.6L1089.7 365.3L1092.2 366.0L1094.7 366.9L1097.1 371.9L1099.6 368.7L1102.1 377.2L1104.6 370.2L1107.1 364.2L1109.6 359.7L1112.0 360.6L1114.5 362.5L1117.0 364.2L1119.5 378.1L1122.0 368.6L1124.5 367.6L1127.0 362.5L1129.4 359.0L1131.9 360.5L1134.4 355.3L1136.9 358.9L1139.4 351.6L1141.9 349.9L1144.3 349.4L1146.8 348.2L1149.3 345.9L1151.8 343.4L1154.3 338.2L1156.8 333.0L1159.3 333.4L1161.7 329.5L1164.2 323.1L1166.7 324.6L1169.2 319.3L1171.7 312.3L1174.2 311.7L1176.6 303.0L1179.1 301.7L1181.6 302.5L1184.1 295.0L1186.6 296.6L1189.1 289.7L1191.6 291.7L1194.0 284.6L1196.5 284.5L1199.0 277.7L1201.5 278.2L1204.0 280.3L1206.5 277.8L1208.9 270.6L1211.4 276.5L1213.9 271.5L1216.4 263.2L1218.9 262.9L1221.4 253.3L1223.9 252.8L1226.3 252.8L1228.8 250.2L1231.3 246.8L1233.8 237.3L1236.3 232.2L1239.2 235.4L1242.1 228.1L1245.0 229.0L1248.1 218.6L1251.2 217.2L1253.7 214.1L1256.1 210.9L1258.6 207.1L1261.1 203.4L1263.6 198.8L1266.1 195.6L1268.6 190.3L1271.7 185.9L1274.8 178.6L1277.7 181.3L1280.6 173.8L1283.5 173.4L1286.0 172.6L1288.4 166.2L1290.9 163.5L1293.4 170.5L1295.9 164.2L1298.4 163.3L1300.9 160.4L1303.4 161.7L1305.8 158.6L1308.3 161.7L1310.8 161.1L1313.9 169.7L1317.0 171.1L1320.1 180.6L1323.2 180.6L1325.7 190.1L1328.2 197.7L1330.7 204.6L1334.4 219.8L1336.9 231.9L1340.6 250.4L1343.1 261.7L1345.6 271.5L1346.8 279.8L1349.3 293.4L1353.0 302.3L1355.5 318.5L1358.0 333.9L1360.5 345.2L1363.0 358.7L1366.7 368.1L1370.4 383.4L1374.2 396.8L1377.9 409.2L1380.4 412.9L1382.9 421.7L1385.3 422.0L1387.8 422.8L1390.3 428.5L1392.8 429.3L1395.3 427.2L1397.8 431.7L1400.2 430.2L1402.7 430.0L1405.2 425.3L1407.7 424.7L1410.2 431.7L1412.7 432.7L1412.7 420.1L1415.2 415.1L1417.6 413.2L1420.1 405.0L1422.6 403.4L1425.1 395.2L1427.6 387.4L1430.1 388.9L1432.5 390.6L1435.0 379.1L1438.1 379.8L1441.2 369.2L1445.0 355.0L1447.5 350.0L1449.9 344.2L1453.0 333.7L1456.1 329.1L1459.3 323.7L1462.4 318.5L1464.8 311.3L1467.3 314.2L1469.8 312.0L1472.3 310.2L1475.2 297.1L1478.1 297.7L1481.0 289.1L1483.5 280.1L1486.4 282.2L1489.3 279.4L1492.2 279.9L1495.9 279.6L1498.8 284.0L1501.7 283.6L1504.6 288.3L1507.1 280.8L1509.6 283.9L1512.0 284.4L1514.7 281.9L1517.3 283.2L1520.0 273.6L1522.3 270.6L1524.5 277.5L1526.8 274.7L1529.0 276.9L1531.5 274.7L1534.0 271.1L1536.5 270.0L1538.9 264.8L1541.4 251.9L1544.5 251.1L1547.6 251.5L1550.7 242.8L1553.9 243.9L1556.3 243.7L1558.8 245.2L1561.3 252.9L1563.8 250.3L1566.3 245.7L1568.8 247.5L1571.2 252.9L1574.1 255.2L1577.0 260.3L1579.9 258.9L1582.4 262.2L1584.9 272.4L1586.1 286.9L1588.6 289.8L1591.1 289.4L1593.6 286.6L1591.1 290.6L1588.6 296.1L1586.1 300.4L1588.6 304.8L1591.1 305.1L1593.6 304.5L1596.1 302.0L1598.6 300.4L1601.1 305.0L1603.5 303.4L1606.0 306.6L1608.5 298.3L1611.0 298.2L1613.5 299.8L1616.0 291.7L1618.4 288.8L1620.9 290.6L1623.4 292.9L1625.9 289.9L1628.4 282.7L1631.5 277.4L1634.6 273.4L1638.3 258.8L1640.8 256.4L1643.3 250.5L1645.8 247.5L1648.3 249.8L1650.7 250.6L1653.9 252.8L1657.0 255.8L1658.2 268.6L1660.7 248.8L1664.4 228.2L1666.9 212.9L1669.4 202.9L1670.6 186.1L1671.9 172.3L1674.8 175.0L1677.7 165.8L1680.6 163.7L1684.3 170.1L1686.8 175.1L1689.3 182.4L1691.7 198.1L1694.2 207.8L1696.7 213.3L1699.2 226.6L1700.4 238.1L1702.9 256.1L1706.6 268.7L1709.1 277.1L1711.6 286.1L1715.3 294.1L1717.8 299.2L1720.3 304.0L1722.8 302.2L1725.3 298.8L1727.8 281.2L1730.2 276.1L1732.7 273.5L1735.2 262.7L1737.7 261.7L1740.2 255.7L1742.7 263.6L1745.2 262.0L1747.6 262.6L1748.9 272.2L1752.0 267.0L1755.1 262.0L1757.6 257.9L1760.1 263.6L1762.5 265.3L1765.0 270.0L1767.5 271.7L1770.0 267.1L1772.5 257.3L1775.0 260.8L1777.5 262.1L1779.9 262.4L1782.4 266.4L1784.9 263.7L1787.4 268.1L1789.9 268.0L1792.4 268.1L1795.5 262.6L1798.6 258.1L1797.3 280.4L1799.8 271.8L1802.3 277.7L1804.8 272.9L1802.3 277.0L1799.8 285.8L1797.3 288.8L1799.8 286.6L1802.3 289.4L1804.8 286.5L1807.3 288.8L1809.8 283.0L1812.2 280.2L1814.7 277.0L1817.2 279.8L1819.7 271.2L1822.2 284.5L1824.7 289.1L1827.1 294.4L1829.6 296.0L1832.1 296.7L1834.6 297.8L1837.1 298.4L1839.6 296.7L1843.0 294.3" stroke="#00ff00" stroke-dasharray="8.1 6"/>
</g>
<g class="b ax" text-anchor="middle" style="font-size:75px">
<text x="218.6" y="1324.5">0</text>
<text x="421.2" y="1324.5">200</text>
<text x="623.9" y="1324.5">400</text>
<text x="826.6" y="1324.5">600</text>
<text x="1029.2" y="1324.5">800</text>
<text x="1231.8" y="1324.5">1000</text>
<text x="1434.5" y="1324.5">1200</text>
<text x="1637.1" y="1324.5">1400</text>
<text x="1839.8" y="1324.5">1600</text>
</g>
<g class="b ax" text-anchor="end" style="font-size:75px">
<text x="195.4" y="1261.1">10</text>
<text x="195.4" y="1153.3">12</text>
<text x="195.4" y="1045.5">14</text>
<text x="195.4" y="937.7">16</text>
<text x="195.4" y="829.9">18</text>
<text x="195.4" y="722.1">20</text>
<text x="195.4" y="614.4">22</text>
<text x="195.4" y="506.6">24</text>
<text x="195.4" y="398.8">26</text>
<text x="195.4" y="291.0">28</text>
<text x="195.4" y="183.2">30</text>
<text x="195.4" y="75.4">32</text>
</g>
<text class="b ax" text-anchor="middle" x="1027.5" y="1411.5">Frequency (Hz)</text>
<text class="b ax" style="font-size:74.5px" text-anchor="middle" transform="translate(73.6 566.6) rotate(-90)">STL of Type B (dB)</text>
<rect x="1129.8" y="1007.9" width="682.1" height="178.7" fill="#ffffff" stroke="#000000" stroke-width="1.9"/>
<g fill="none" stroke-width="8.2">
<path d="M1141 1055H1253" stroke="#ff0000"/>
<path d="M1482.5 1055H1594.5" stroke="#000000" stroke-dasharray="30.2 28.6"/>
<path d="M1141 1140.1H1253" stroke="#0000ff" stroke-dasharray="31 6.2 15.9 6.2"/>
<path d="M1482.2 1140.1H1594.5" stroke="#00ff00" stroke-dasharray="8.1 6.75"/>
</g>
<g class="b" fill="#000000">
<text x="1259.5" y="1081.1">10mm</text>
<text x="1600.5" y="1081.1">15mm</text>
<text x="1259.5" y="1165.0">20mm</text>
<text x="1600.5" y="1165.0">25mm</text>
</g>
<text x="959.5" y="1554" text-anchor="middle" font-size="84" fill="#000000">(<tspan font-weight="bold">c</tspan>)</text>
</svg>
</body>
</html>
